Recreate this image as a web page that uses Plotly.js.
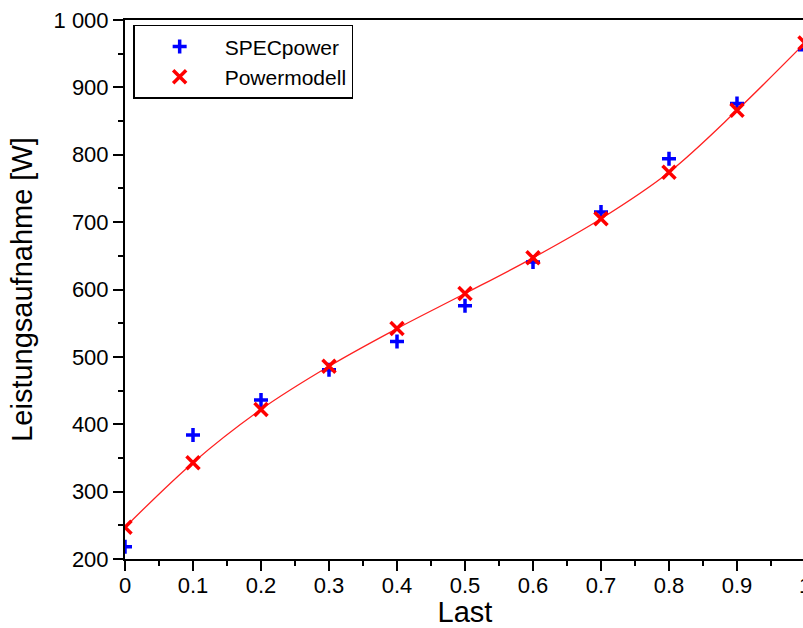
<!DOCTYPE html>
<html>
<head>
<meta charset="utf-8">
<script src="https://cdn.plot.ly/plotly-3.0.1.min.js"></script>
<style>
html, body { margin:0; padding:0; overflow:hidden; background:#fff; }
#chart { width:830px; height:628px; }
</style>
</head>
<body>
<div id="chart"></div>
<script>
const last = [0, 0.1, 0.2, 0.3, 0.4, 0.5, 0.6, 0.7, 0.8, 0.9, 1.0];
const specpower = [218, 384, 436, 481, 523, 576, 641, 715, 794, 876, 956];
const powermodell = [247, 343, 422, 486, 542, 594, 647, 705, 774, 866, 966];
const xTitle = "Last";
const yTitle = "Leistungsaufnahme [W]";

const font = "Liberation Sans, Arial, sans-serif";

const traces = [
  {
    x: last, y: powermodell, type: "scatter", mode: "lines",
    line: {color: "#ff2020", width: 1.3, shape: "spline", smoothing: 1},
    showlegend: false, hoverinfo: "skip"
  },
  {
    x: last, y: specpower, type: "scatter", mode: "markers", name: "SPECpower",
    marker: {symbol: "cross-thin", size: 10, color: "#0000ff", line: {color: "#0000ff", width: 3.5}}
  },
  {
    x: last, y: powermodell, type: "scatter", mode: "markers", name: "Powermodell",
    marker: {symbol: "x-thin", size: 13, color: "#ff0000", line: {color: "#ff0000", width: 3.5}}
  }
];

const axisCommon = {
  showgrid: false, zeroline: false,
  showline: true, linecolor: "black", linewidth: 2, mirror: true,
  ticks: "outside", ticklen: 10, tickwidth: 2, tickcolor: "black",
  tickfont: {family: font, size: 22, color: "black"}
};

const layout = {
  width: 830, height: 628,
  margin: {l: 125, r: 25, t: 20, b: 69},
  paper_bgcolor: "white", plot_bgcolor: "white",
  separators: ". ",
  font: {family: font, color: "black"},
  showlegend: true,
  legend: {
    x: 0.012, y: 0.991, xanchor: "left", yanchor: "top",
    bordercolor: "black", borderwidth: 1.5, bgcolor: "white",
    font: {family: font, size: 21, color: "black"},
    itemwidth: 80, tracegroupgap: 0
  },
  xaxis: Object.assign({}, axisCommon, {
    range: [0, 1], dtick: 0.1, tick0: 0,
    ticklabelstandoff: -4,
    minor: {dtick: 0.05, ticks: "outside", ticklen: 5, tickwidth: 2, tickcolor: "black", showgrid: false},
    title: {text: xTitle, font: {family: font, size: 29, color: "black"}, standoff: 4}
  }),
  yaxis: Object.assign({}, axisCommon, {
    range: [200, 1000], dtick: 100, tick0: 0,
    separatethousands: true,
    minor: {dtick: 50, ticks: "outside", ticklen: 5, tickwidth: 2, tickcolor: "black", showgrid: false},
    title: {text: yTitle, font: {family: font, size: 29, color: "black"}, standoff: 12}
  })
};

Plotly.newPlot("chart", traces, layout, {displayModeBar: false, staticPlot: true});
</script>
</body>
</html>
